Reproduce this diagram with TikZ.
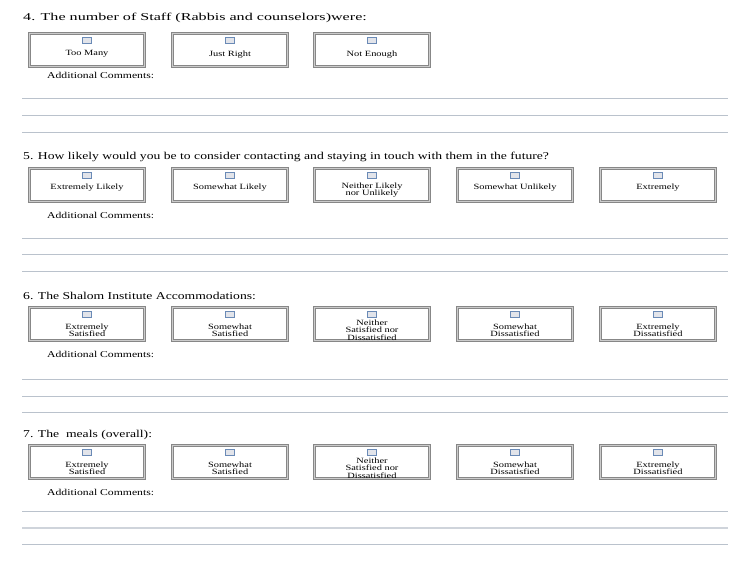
\documentclass[tikz,border=0pt]{standalone}
\usepackage{fontspec}
\setmainfont{Liberation Serif}[FakeStretch=1.3]
\usetikzlibrary{positioning}

\definecolor{framegray}{HTML}{878787}
\definecolor{bandgray}{HTML}{CBCBCB}
\definecolor{rulegray}{HTML}{BAC2CC}
\definecolor{chkblue}{HTML}{6A8AB6}
\definecolor{chkfill}{HTML}{E2E4EA}

\tikzset{
  optbox/.style={draw=framegray, line width=0.7pt, double=bandgray, double distance=1.6pt,
    minimum width=115pt, minimum height=33pt, inner sep=0pt},
  chkbox/.style={draw=chkblue, fill=chkfill, line width=0.6pt, minimum width=8.5pt,
    minimum height=6pt, inner sep=0pt},
  optlabel/.style={font={\fontsize{8}{7.2}\selectfont\lineskiplimit-5pt\relax}, align=center, inner sep=0pt},
  qtitle/.style={anchor=west, inner sep=0pt, font=\fontsize{10.5}{12}\selectfont},
  comments/.style={anchor=west, inner sep=0pt, font=\fontsize{9}{10}\selectfont},
  cline/.style={draw=rulegray, line width=0.8pt}
}

\begin{document}
\begin{tikzpicture}[x=1pt, y=-1pt]
\useasboundingbox (0,0) rectangle (750,566);
% question 4
\node[qtitle] (q4) at (23,18) {\scalebox{1.18}[1]{4. The number of Staff (Rabbis and counselors)were:}};
\foreach \n/\x/\lbl in {a/87/Too Many, b/230/Just Right, c/372/Not Enough} {
  \node[optbox] (b4\n) at (\x,50) {};
  \node[chkbox, below=4pt of b4\n.north] (c4\n) {};
  \node[optlabel] (l4\n) at ([yshift=-21pt]b4\n.north) {\lbl};
}
\node[comments] (ac4) at (47,75) {Additional Comments:};
% question 5
\node[qtitle] (q5) at (23,157) {5. How likely would you be to consider contacting and staying in touch with them in the future?};
\foreach \n/\x/\dy/\lbl in {a/87/19/Extremely Likely, b/230/19/Somewhat Likely,
    c/372/22/Neither Likely\\nor Unlikely, d/515/19/Somewhat Unlikely, e/658/19/Extremely} {
  \node[optbox] (b5\n) at (\x,185) {};
  \node[chkbox, below=4pt of b5\n.north] (c5\n) {};
  \node[optlabel] (l5\n) at ([yshift=-\dy pt]b5\n.north) {\lbl};
}
\node[comments] (ac5) at (47,215) {Additional Comments:};
% questions 6 and 7
\node[qtitle] (q6) at (23,296) {6. The Shalom Institute Accommodations:};
\node[qtitle] (q7) at (23,435) {7. The~ meals (overall):};
\foreach \q/\y in {6/324, 7/462} {
  \foreach \n/\x/\lbl in {a/87/Extremely\\Satisfied, b/230/Somewhat\\Satisfied,
      c/372/Neither\\Satisfied nor\\Dissatisfied, d/515/Somewhat\\Dissatisfied,
      e/658/Extremely\\Dissatisfied} {
    \node[optbox] (b\q\n) at (\x,\y) {};
    \node[chkbox, below=4pt of b\q\n.north] (c\q\n) {};
    \node[optlabel] (l\q\n) at ([yshift=-23pt]b\q\n.north) {\lbl};
  }
}
\node[comments] (ac6) at (47,354) {Additional Comments:};
\node[comments] (ac7) at (47,492) {Additional Comments:};
% comment lines
\foreach \y in {98,115,132,238,254,271,379,396,412,511,544}
  \draw[cline] (22,\y) -- (728,\y);
\draw[cline, line width=1.8pt, draw=rulegray!70] (22,528) -- (728,528);
\end{tikzpicture}
\end{document}
